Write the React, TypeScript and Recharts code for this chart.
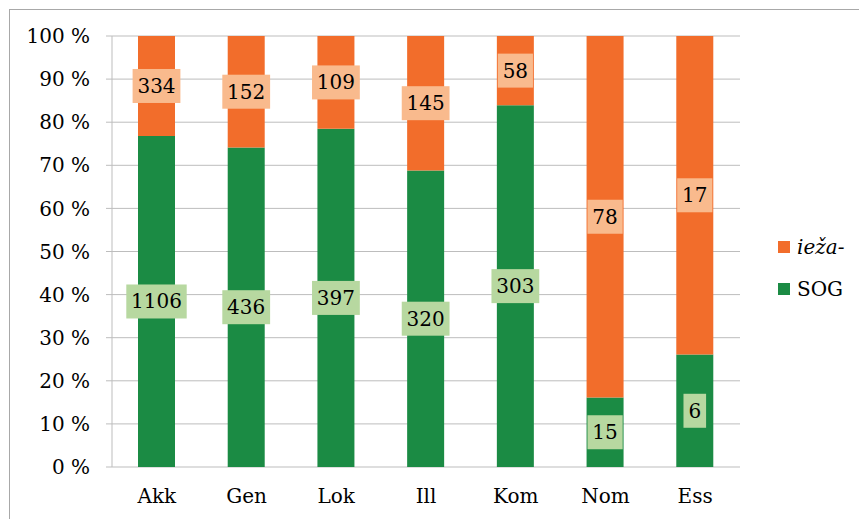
import { BarChart, Bar, XAxis, YAxis, CartesianGrid, LabelList } from 'recharts'

const cases = ['Akk', 'Gen', 'Lok', 'Ill', 'Kom', 'Nom', 'Ess']
const sog = [1106, 436, 397, 320, 303, 15, 6]
const ieza = [334, 152, 109, 145, 58, 78, 17]
const yTicks = [0, 0.1, 0.2, 0.3, 0.4, 0.5, 0.6, 0.7, 0.8, 0.9, 1]
const boundaryTicks = [0, 1, 2, 3, 4, 5, 6, 7]

const ORANGE = '#F26D2B'
const GREEN = '#1B8B44'
const ORANGE_BOX = '#F9BA8D'
const GREEN_BOX = '#B7D8A0'
const FONT = '"DejaVu Serif", serif'
const GRID = '#BDBDBD'

const data = cases.map((name, i) => ({ name, sog: sog[i], ieza: ieza[i] }))

function makeLabel(fill: string) {
  // eslint-disable-next-line @typescript-eslint/no-explicit-any
  return (props: any) => {
    const { x, y, width, height, value } = props
    const cx = Number(x) + Number(width) / 2
    const cy = Number(y) + Number(height) / 2
    const w = String(value).length * 12.6 + 10
    const h = 34
    return (
      <g>
        <rect x={cx - w / 2} y={cy - h / 2} width={w} height={h} fill={fill} />
        <text
          x={cx}
          y={cy}
          textAnchor="middle"
          dominantBaseline="central"
          fontFamily={FONT}
          fontSize={20}
          fill="#000"
        >
          {value}
        </text>
      </g>
    )
  }
}

const legendItems = [
  { label: 'ieža-', color: ORANGE, italic: true },
  { label: 'SOG', color: GREEN, italic: false },
]

export default function App() {
  return (
    <div
      style={{
        position: 'absolute',
        left: 0,
        top: 0,
        width: 859,
        height: 519,
        overflow: 'hidden',
        background: '#fff',
      }}
    >
      <div
        style={{
          position: 'absolute',
          left: 9,
          top: 9,
          width: 870,
          height: 530,
          border: '1px solid #A8A8A8',
        }}
      />
      <div style={{ position: 'absolute', left: 0, top: 0 }}>
        <BarChart
          width={859}
          height={519}
          data={data}
          stackOffset="expand"
          margin={{ top: 36, right: 119, bottom: 22, left: 0 }}
        >
          <CartesianGrid vertical={false} stroke={GRID} xAxisId="cat" />
          <XAxis
            xAxisId="grid"
            type="number"
            domain={[0, 7]}
            ticks={boundaryTicks}
            height={0}
            stroke={GRID}
            tickSize={6}
            tickFormatter={() => ''}
            allowDataOverflow
          />
          <XAxis
            xAxisId="cat"
            dataKey="name"
            height={30}
            axisLine={false}
            tickLine={false}
            tickMargin={16}
            tick={{ fontFamily: FONT, fontSize: 20, fill: '#000' }}
          />
          <YAxis
            width={112}
            domain={[0, 1]}
            ticks={yTicks}
            stroke={GRID}
            tickSize={6}
            tickMargin={16}
            tick={{ fontFamily: FONT, fontSize: 20, fill: '#000' }}
            tickFormatter={v => `${Math.round(v * 100)} %`}
          />
          <Bar xAxisId="cat" dataKey="sog" stackId="a" fill={GREEN} barSize={37} isAnimationActive={false}>
            <LabelList dataKey="sog" content={makeLabel(GREEN_BOX)} />
          </Bar>
          <Bar xAxisId="cat" dataKey="ieza" stackId="a" fill={ORANGE} barSize={37} isAnimationActive={false}>
            <LabelList dataKey="ieza" content={makeLabel(ORANGE_BOX)} />
          </Bar>
        </BarChart>
      </div>
      <div style={{ position: 'absolute', left: 778, top: 233 }}>
        {legendItems.map(item => (
          <div
            key={item.label}
            style={{ display: 'flex', alignItems: 'center', height: 28, marginBottom: 14 }}
          >
            <span
              style={{ width: 12, height: 12, background: item.color, display: 'inline-block', marginRight: 7 }}
            />
            <span
              style={{
                fontFamily: FONT,
                fontSize: 20,
                fontStyle: item.italic ? 'italic' : 'normal',
                color: '#000',
              }}
            >
              {item.label}
            </span>
          </div>
        ))}
      </div>
    </div>
  )
}
